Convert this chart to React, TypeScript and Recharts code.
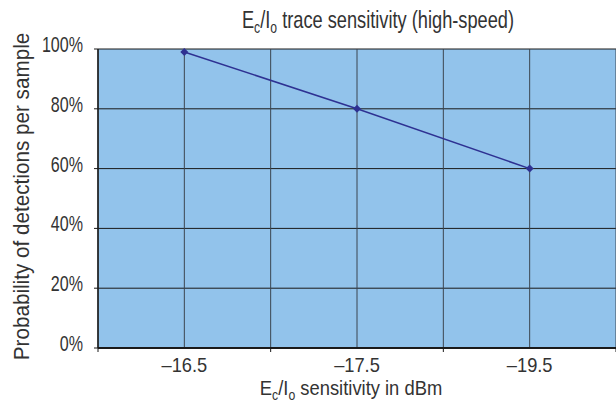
import { LineChart, Line, XAxis, YAxis, CartesianGrid, Label } from 'recharts'

// x positions: slots 0..6, labelled points sit on odd slots
const SLOTS = [0, 1, 2, 3, 4, 5, 6]
const POS = [1, 3, 5]
const SENS = ['–16.5', '–17.5', '–19.5']
const PROB = [99, 80, 60]
const Y_TICKS = [0, 20, 40, 60, 80, 100]

const data = POS.map((x, i) => ({ x, label: SENS[i], prob: PROB[i] }))
const labelAt: Record<number, string> = Object.fromEntries(POS.map((p, i) => [p, SENS[i]]))

// no condensed face installed, so squeeze Liberation Sans horizontally
const FONT = "'Liberation Sans', Arial, sans-serif"
const INK = '#333333'
const BLUE = '#2E3192'

function Narrow({ x, y, sx, size, anchor = 'middle', rotate = 0, children }: any) {
  return (
    <text
      transform={`translate(${x} ${y}) rotate(${rotate}) scale(${sx} 1)`}
      textAnchor={anchor} fill={INK} fontSize={size} fontFamily={FONT}
    >
      {children}
    </text>
  )
}

function XTick(props: any) {
  const { x, y, payload } = props
  const v = payload.value
  if (v % 2 === 0) {
    return <line x1={x} x2={x} y1={y - 4} y2={y} stroke="#1a1a1a" strokeWidth={1} />
  }
  return <Narrow x={x} y={y + 20} sx={0.87} size={21}>{labelAt[v]}</Narrow>
}

function YTick(props: any) {
  const { x, y, payload } = props
  return <Narrow x={x} y={y + 3} sx={0.73} size={22} anchor="end">{`${payload.value}%`}</Narrow>
}

function Diamond(props: any) {
  const { cx, cy } = props
  if (cx == null || cy == null) return null
  const r = 4
  return <polygon points={`${cx},${cy - r} ${cx + r},${cy} ${cx},${cy + r} ${cx - r},${cy}`} fill={BLUE} />
}

function XTitle(props: any) {
  const vb = props.viewBox
  return (
    <Narrow x={vb.x + vb.width / 2 - 6} y={395} sx={0.875} size={21}>
      E<tspan fontSize={14} dy={5}>c</tspan><tspan dy={-5}>/I</tspan><tspan fontSize={14} dy={5}>o</tspan><tspan dy={-5}> sensitivity in dBm</tspan>
    </Narrow>
  )
}

function YTitle(props: any) {
  const vb = props.viewBox
  return (
    <Narrow x={28.5} y={vb.y + vb.height / 2 - 2} sx={0.94} size={22} rotate={-90}>
      Probability of detections per sample
    </Narrow>
  )
}

export default function App() {
  return (
    <div style={{ position: 'absolute', left: 0, top: 0, width: 616, height: 408, background: '#fff' }}>
      <div style={{ position: 'absolute', left: 0, top: 0 }}>
        <LineChart width={616} height={408} data={data} margin={{ top: 49, right: 0, bottom: 0, left: 0 }}>
          <CartesianGrid fill="#92C3EB" vertical={false} stroke="#1a1a1a" strokeOpacity={1} />
          <CartesianGrid horizontal={false} stroke="#3b4550" strokeOpacity={1} />
          <XAxis
            dataKey="x" type="number" domain={[0, 6]} ticks={SLOTS} interval={0}
            height={60} tickSize={4} tickMargin={0} tickLine={false} tick={<XTick />}
            axisLine={{ stroke: '#1a1a1a', strokeWidth: 2 }}
          >
            <Label content={<XTitle />} />
          </XAxis>
          <YAxis
            type="number" domain={[0, 100]} ticks={Y_TICKS} width={98}
            tickSize={4} tickMargin={11} tick={<YTick />}
            tickLine={{ stroke: '#1a1a1a' }} axisLine={{ stroke: '#1a1a1a', strokeWidth: 1.5 }}
          >
            <Label content={<YTitle />} />
          </YAxis>
          <Line dataKey="prob" stroke={BLUE} strokeWidth={1.5} dot={<Diamond />} activeDot={false} isAnimationActive={false} />
        </LineChart>
      </div>
      <svg width={616} height={40} style={{ position: 'absolute', left: 0, top: 0 }}>
        <Narrow x={378} y={28} sx={0.76} size={24}>
          E<tspan fontSize={16} dy={5}>c</tspan><tspan dy={-5}>/I</tspan><tspan fontSize={16} dy={5}>o</tspan><tspan dy={-5}> trace sensitivity (high-speed)</tspan>
        </Narrow>
      </svg>
    </div>
  )
}
